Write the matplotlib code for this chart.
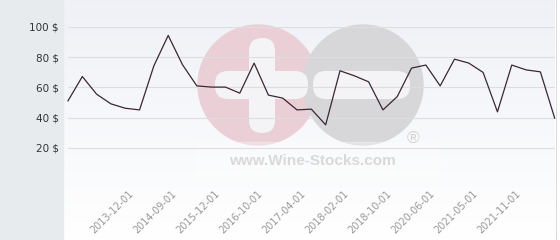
import numpy as np
import matplotlib
matplotlib.use("Agg")
import matplotlib.pyplot as plt
from matplotlib.patches import Rectangle, Circle, FancyBboxPatch
from matplotlib.transforms import ScaledTranslation

# price per bottle, one value per listed date
prices = [51.1, 67.2, 55.5, 49.1, 46.2, 45.1, 74.3, 94.4, 75.0, 61.0,
          60.2, 60.2, 56.2, 76.1, 54.9, 52.9, 45.1, 45.6, 35.2, 71.0,
          67.7, 63.7, 45.1, 53.9, 72.8, 74.8, 61.0, 78.7, 76.1, 69.9,
          43.8, 74.8, 71.6, 70.3, 39.6]
label_pos = [4, 7, 10, 13, 16, 19, 22, 25, 28, 31]
tick_labels = ["2013-12-01", "2014-09-01", "2015-12-01", "2016-10-01",
               "2017-04-01", "2018-02-01", "2018-10-01", "2020-06-01",
               "2021-05-01", "2021-11-01"]
y_ticks = [0, 20, 40, 60, 80, 100]
y_labels = ["", "20 $", "40 $", "60 $", "80 $", "100 $"]

W, H = 560, 240
fig = plt.figure(figsize=(W / 100, H / 100), dpi=100, facecolor="white")

# background layer in pixel coordinates
bg = fig.add_axes([0, 0, 1, 1], zorder=0)
bg.set_xlim(0, W)
bg.set_ylim(H, 0)
bg.axis("off")
grad = np.linspace(0, 1, 100).reshape(-1, 1)
top = np.array([0.937, 0.945, 0.965])
bot = np.array([1.0, 1.0, 1.0])
img = top + (bot - top) * grad[..., None]
bg.imshow(img, extent=(63, 555, H, 0), aspect="auto", zorder=0)
bg.add_patch(Rectangle((0, 0), 63, H, color="#e7ebee", zorder=1))
bg.plot([555.5, 555.5], [0, H], color="#dcdcdc", lw=0.8, zorder=1)

# watermark
bg.add_patch(Circle((258, 85), 60, color="#eacfd6", zorder=2))
bg.add_patch(Circle((363, 85), 60, color="#d7d7d9", zorder=3))
for x0, y0, w, h in [(249, 38, 26, 95), (215, 71, 93, 28), (313, 71, 97, 28)]:
    bg.add_patch(FancyBboxPatch((x0, y0), w, h, boxstyle="round,pad=0,rounding_size=13",
                                fc="#f4f4f6", ec="none", zorder=4))
bg.add_patch(Rectangle((195, 142), 245, 34, color="white", alpha=0.3, zorder=5))
bg.text(312, 161, "www.Wine-Stocks.com", fontsize=11, fontweight="bold",
        family="Liberation Sans", color="#d9d9d9", ha="center", va="center", zorder=6)
bg.text(413, 139, "\u00ae", fontsize=12.5, family="Liberation Sans",
        color="#d3d3d3", ha="center", va="center", zorder=6)

# main chart
ax = fig.add_axes([68 / W, 62 / H, (554.7 - 68) / W, 151 / H], zorder=2)
ax.patch.set_alpha(0)
x = np.arange(len(prices))
ax.plot(x, prices, color="#3a2733", lw=0.9, zorder=3, clip_on=False)
ax.set_xlim(0, len(prices) - 1)
ax.set_ylim(0, 100)

ax.set_yticks(y_ticks)
ax.set_yticklabels(y_labels)
ax.grid(axis="y", color="#dedede", lw=0.8)
ax.set_axisbelow(True)
for s in ax.spines.values():
    s.set_visible(False)
ax.tick_params(axis="y", length=0, pad=6.5, labelsize=7.5, labelcolor="#333333")

ax.set_xticks(label_pos)
ax.set_xticklabels(tick_labels, rotation=45, ha="right", va="center",
                   rotation_mode="anchor")
ax.tick_params(axis="x", length=0, pad=10, labelsize=7, labelcolor="#999999")
shift = ScaledTranslation(0.07, 0, fig.dpi_scale_trans)
for lab in ax.get_xticklabels():
    lab.set_transform(lab.get_transform() + shift)

fig.savefig("out.png", dpi=100)
